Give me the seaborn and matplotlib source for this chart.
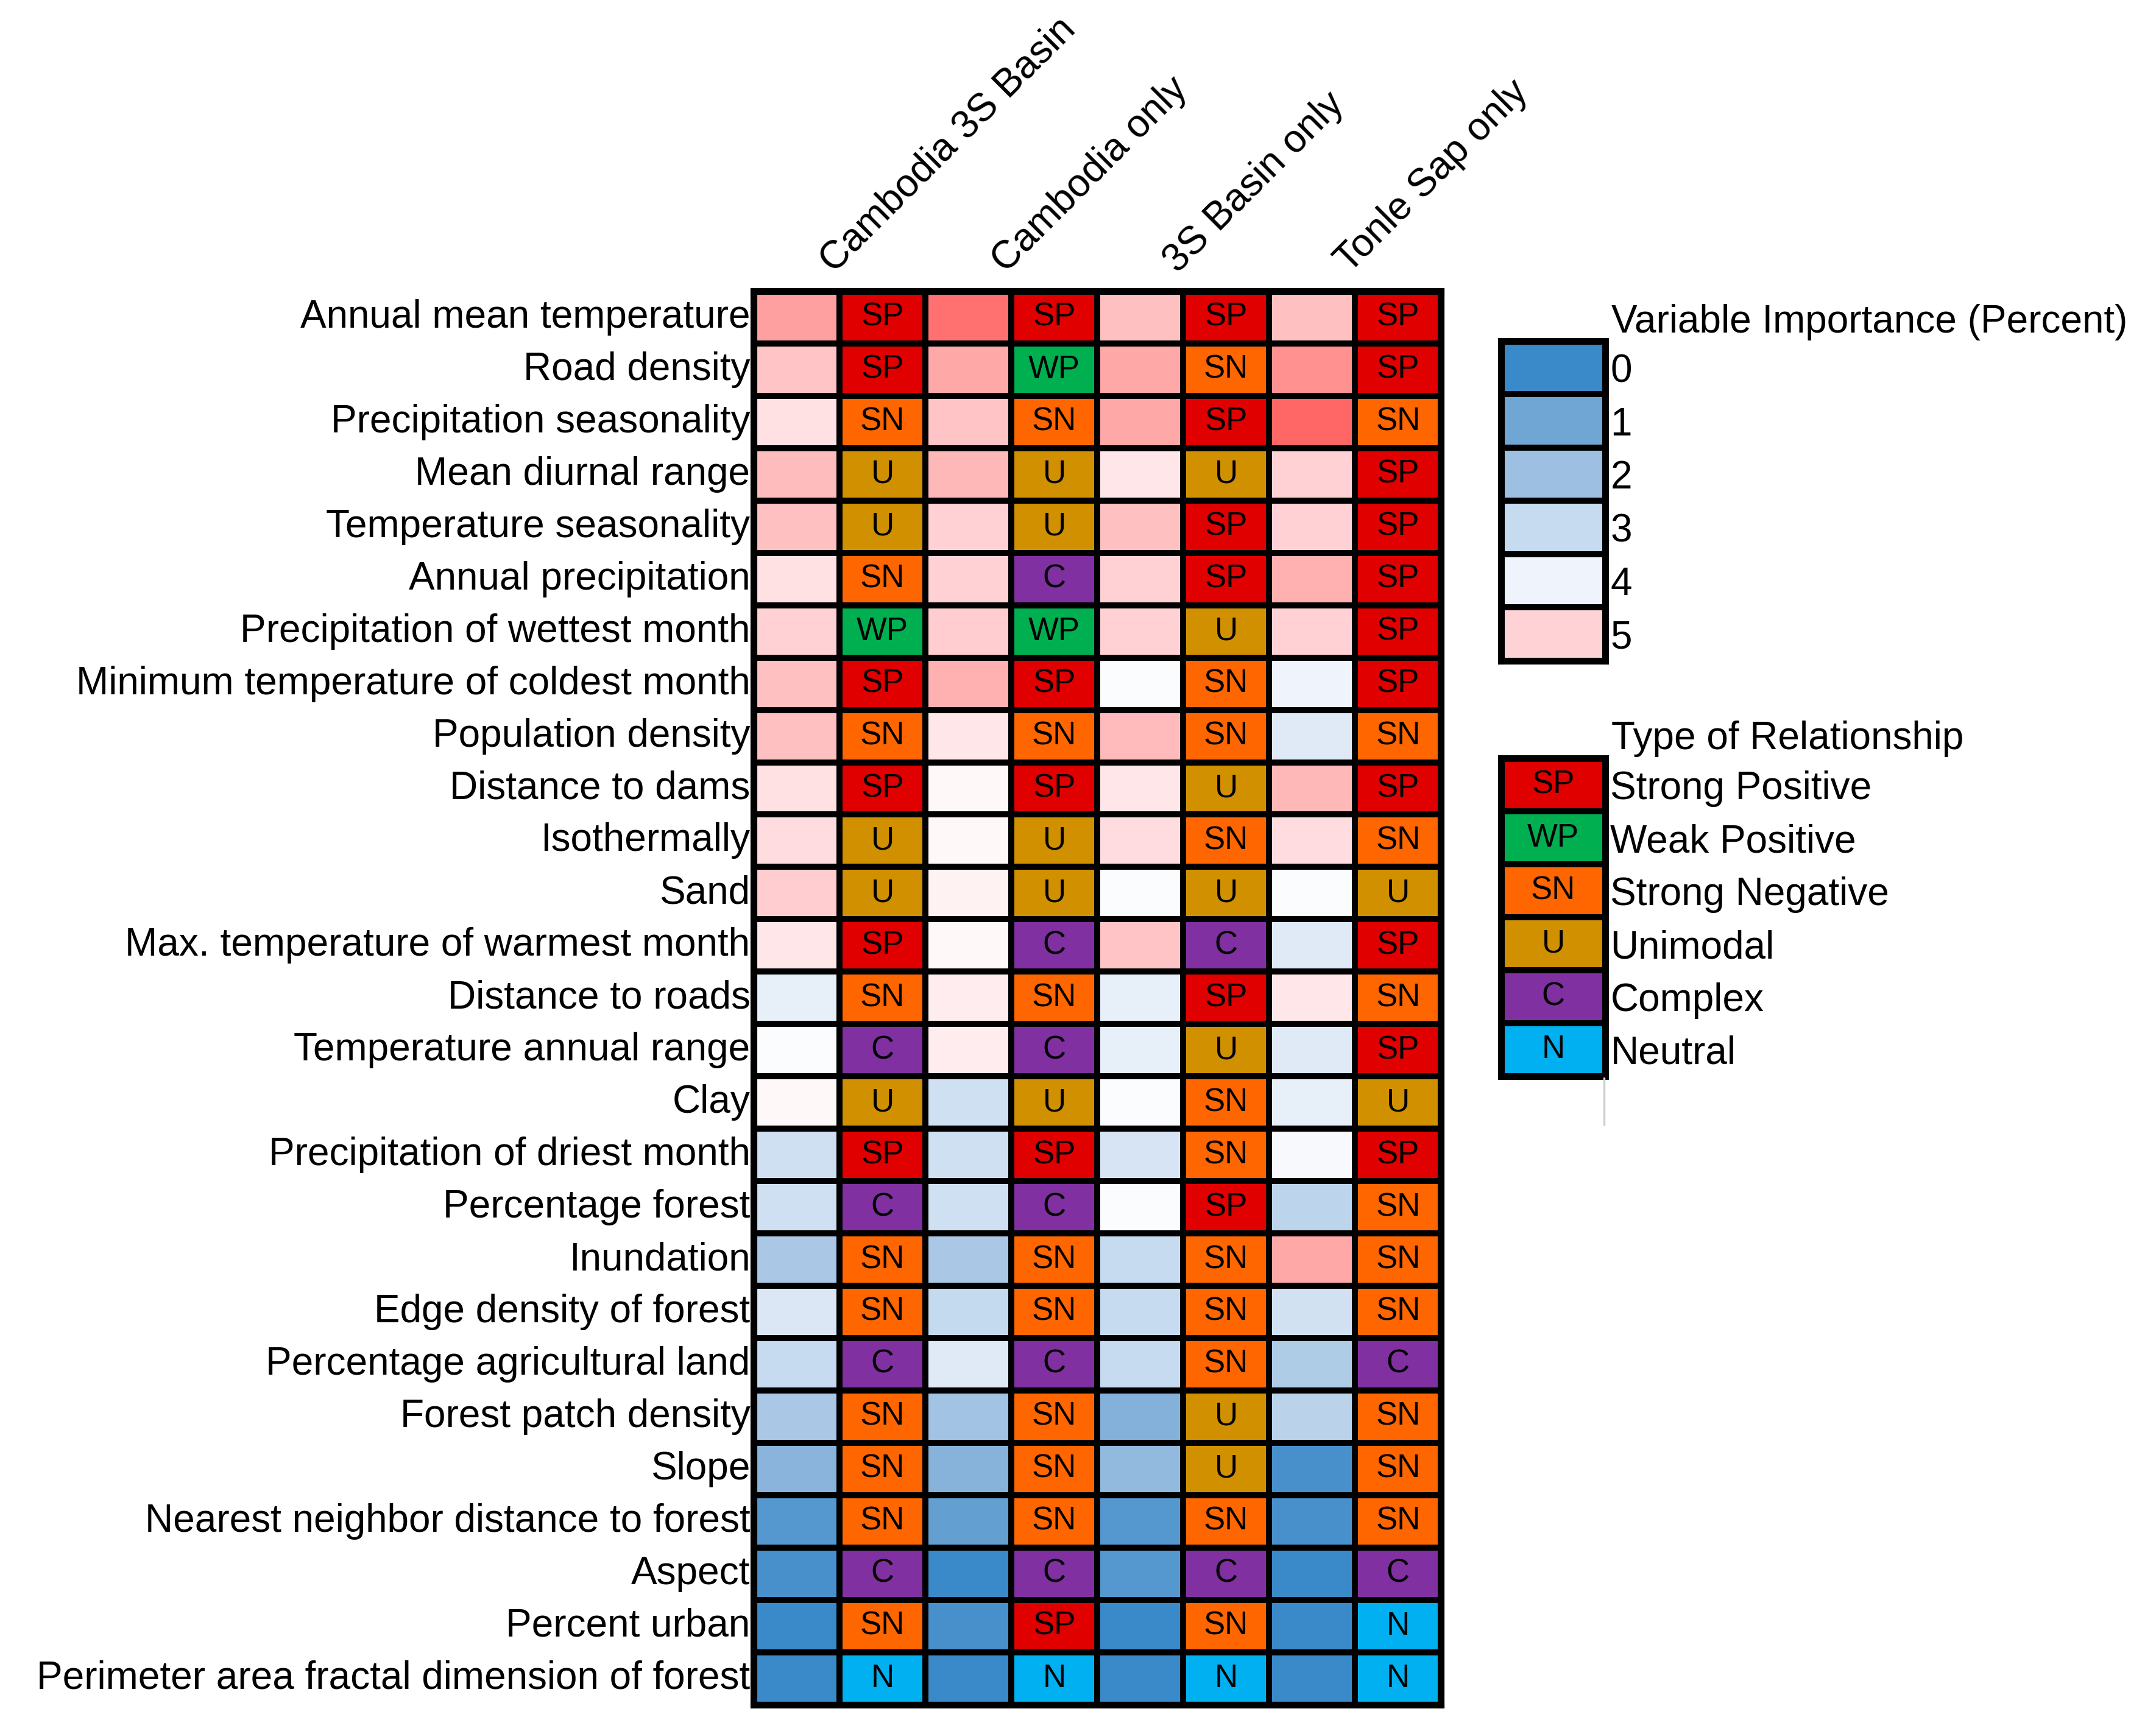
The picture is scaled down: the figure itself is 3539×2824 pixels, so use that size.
import numpy as np
import pandas as pd
import matplotlib
matplotlib.use("Agg")
import matplotlib.pyplot as plt
import seaborn as sns
from matplotlib.colors import LinearSegmentedColormap, ListedColormap
from matplotlib.lines import Line2D

# ---------------- data ----------------
variables = [
    "Annual mean temperature", "Road density", "Precipitation seasonality",
    "Mean diurnal range", "Temperature seasonality", "Annual precipitation",
    "Precipitation of wettest month", "Minimum temperature of coldest month",
    "Population density", "Distance to dams", "Isothermally", "Sand",
    "Max. temperature of warmest month", "Distance to roads",
    "Temperature annual range", "Clay", "Precipitation of driest month",
    "Percentage forest", "Inundation", "Edge density of forest",
    "Percentage agricultural land", "Forest patch density", "Slope",
    "Nearest neighbor distance to forest", "Aspect", "Percent urban",
    "Perimeter area fractal dimension of forest",
]
regions = ["Cambodia 3S Basin", "Cambodia only", "3S Basin only", "Tonle Sap only"]

imp_cambodia_3s = [9.5, 6.1, 4.87, 6.7, 6.4, 4.82, 5.1, 6.4, 6.4, 4.87, 4.93, 5.4, 4.8,
                   3.85, 4.41, 4.62, 3.2, 3.2, 2.35, 3.5, 3.0, 2.35, 1.6, 0.5, 0.25, 0.0, 0.0]
imp_cambodia_only = [14.0, 8.7, 6.1, 7.0, 5.1, 5.1, 5.4, 7.9, 4.8, 4.58, 4.58, 4.67, 4.58,
                     4.73, 4.73, 3.2, 3.2, 3.2, 2.35, 2.95, 3.65, 2.15, 1.55, 0.8, 0.0, 0.25, 0.0]
imp_3s_only = [6.4, 8.7, 8.7, 4.76, 6.4, 5.1, 5.1, 4.38, 6.8, 4.76, 4.89, 4.41, 6.1,
               3.85, 3.85, 4.41, 3.4, 4.41, 3.0, 3.0, 3.0, 1.45, 1.8, 0.5, 0.5, 0.0, 0.0]
imp_tonle_sap = [6.4, 11.0, 15.0, 5.1, 5.1, 7.9, 5.1, 4.0, 3.65, 7.0, 4.89, 4.41, 3.65,
                 4.8, 3.65, 3.85, 4.3, 2.75, 8.7, 3.3, 2.45, 2.7, 0.3, 0.3, 0.0, 0.0, 0.0]

rel_cambodia_3s = ["SP", "SP", "SN", "U", "U", "SN", "WP", "SP", "SN", "SP", "U", "U", "SP", "SN",
                   "C", "U", "SP", "C", "SN", "SN", "C", "SN", "SN", "SN", "C", "SN", "N"]
rel_cambodia_only = ["SP", "WP", "SN", "U", "U", "C", "WP", "SP", "SN", "SP", "U", "U", "C", "SN",
                     "C", "U", "SP", "C", "SN", "SN", "C", "SN", "SN", "SN", "C", "SP", "N"]
rel_3s_only = ["SP", "SN", "SP", "U", "SP", "SP", "U", "SN", "SN", "U", "SN", "U", "C", "SP",
               "U", "SN", "SN", "SP", "SN", "SN", "SN", "U", "U", "SN", "C", "SN", "N"]
rel_tonle_sap = ["SP", "SP", "SN", "SP", "SP", "SP", "SP", "SP", "SN", "SP", "SN", "U", "SP", "SN",
                 "SP", "U", "SP", "SN", "SN", "SN", "C", "SN", "SN", "SN", "C", "N", "N"]

rel_codes = ["SP", "WP", "SN", "U", "C", "N"]
rel_names = ["Strong Positive", "Weak Positive", "Strong Negative", "Unimodal", "Complex", "Neutral"]
rel_colors = ["#E00000", "#00B050", "#FF6600", "#D09000", "#8030A0", "#00B0F0"]

legend_levels = [0, 1, 2, 3, 4, 5]

# importance colour scale
imp_nodes = [0, 1, 2, 3, 4, 4.5, 5, 7, 10, 16]
imp_node_colors = ["#3A89C9", "#70A6D4", "#9DBFE1", "#C6DBEF", "#EEF3FB", "#FFFFFF",
                   "#FFD2D6", "#FFB8B8", "#FF9C9C", "#FF5C5C"]
VMAX = 16

# ---------------- style ----------------
sns.set_theme(style="white")
plt.rcParams["font.family"] = ["Liberation Sans", "DejaVu Sans"]
FS = 46
ANNOT_FS = 38
LW = 7

imp_cmap = LinearSegmentedColormap.from_list(
    "imp", [(v / VMAX, c) for v, c in zip(imp_nodes, imp_node_colors)])
rel_cmap = ListedColormap(rel_colors)

n = len(variables)
imp_cols = [imp_cambodia_3s, imp_cambodia_only, imp_3s_only, imp_tonle_sap]
rel_cols = [rel_cambodia_3s, rel_cambodia_only, rel_3s_only, rel_tonle_sap]
imp_mat = np.full((n, 8), np.nan)
rel_mat = np.full((n, 8), np.nan)
rel_txt = np.full((n, 8), "", dtype=object)
for j in range(4):
    imp_mat[:, 2 * j] = imp_cols[j]
    rel_mat[:, 2 * j + 1] = [rel_codes.index(r) for r in rel_cols[j]]
    rel_txt[:, 2 * j + 1] = rel_cols[j]
imp_df = pd.DataFrame(imp_mat, index=variables)
rel_df = pd.DataFrame(rel_mat, index=variables)

fig = plt.figure(figsize=(35.39, 28.24), dpi=100)
fig.patch.set_facecolor("white")

ax = fig.add_axes([0.34953, 0.0090, 0.3188, 0.82174])
sns.heatmap(imp_df, mask=imp_df.isna(), cmap=imp_cmap, vmin=0, vmax=VMAX, cbar=False,
            linewidths=LW, linecolor="black", ax=ax)
sns.heatmap(rel_df, mask=rel_df.isna(), cmap=rel_cmap, vmin=-0.5, vmax=5.5, cbar=False,
            linewidths=LW, linecolor="black", annot=rel_txt, fmt="",
            annot_kws={"color": "black", "fontsize": ANNOT_FS}, ax=ax)

ax.set_yticks(np.arange(n) + 0.5)
ax.set_yticklabels(variables, rotation=0, fontsize=FS, color="black")
ax.xaxis.tick_top()
ax.set_xticks([2 * j + 1.0 for j in range(4)])
ax.set_xticklabels(regions, rotation=45, ha="left", va="bottom",
                   rotation_mode="anchor", fontsize=FS, color="black")
ax.tick_params(axis="y", length=0, pad=4)
ax.tick_params(axis="x", length=0, pad=14)
ax.set_xlabel("")
ax.set_ylabel("")
for s in ax.spines.values():
    s.set_visible(True)
    s.set_linewidth(8)
    s.set_color("black")

# ---------------- importance legend ----------------
lax = fig.add_axes([0.6963, 0.6158, 0.0483, 0.1859])
leg_df = pd.DataFrame(np.array(legend_levels, dtype=float).reshape(-1, 1))
sns.heatmap(leg_df, cmap=imp_cmap, vmin=0, vmax=VMAX, cbar=False, linewidths=LW,
            linecolor="black", xticklabels=False, yticklabels=[str(v) for v in legend_levels],
            ax=lax)
lax.yaxis.tick_right()
lax.set_yticklabels([str(v) for v in legend_levels], rotation=0, fontsize=FS, color="black")
lax.tick_params(axis="y", length=0, pad=6)
for s in lax.spines.values():
    s.set_visible(True)
    s.set_linewidth(8)
    s.set_color("black")
lax.text(1.06, 1.027, "Variable Importance (Percent)", transform=lax.transAxes,
         ha="left", va="baseline", fontsize=FS, color="black")

# ---------------- relationship legend ----------------
tax = fig.add_axes([0.6963, 0.3743, 0.0483, 0.1848])
tleg_df = pd.DataFrame(np.arange(len(rel_codes), dtype=float).reshape(-1, 1))
sns.heatmap(tleg_df, cmap=rel_cmap, vmin=-0.5, vmax=5.5, cbar=False, linewidths=LW,
            linecolor="black", annot=np.array(rel_codes, dtype=object).reshape(-1, 1), fmt="",
            annot_kws={"color": "black", "fontsize": ANNOT_FS},
            xticklabels=False, yticklabels=rel_names, ax=tax)
tax.yaxis.tick_right()
tax.set_yticklabels(rel_names, rotation=0, fontsize=FS, color="black")
tax.tick_params(axis="y", length=0, pad=6)
for s in tax.spines.values():
    s.set_visible(True)
    s.set_linewidth(8)
    s.set_color("black")
tax.text(1.06, 1.029, "Type of Relationship", transform=tax.transAxes,
         ha="left", va="baseline", fontsize=FS, color="black")
fig.add_artist(Line2D([2633 / 3539, 2633 / 3539], [1 - 1770 / 2824, 1 - 1847 / 2824],
                      transform=fig.transFigure, color="#D0D0D0", lw=2.5))

fig.savefig("out.png", dpi=100, facecolor="white")
